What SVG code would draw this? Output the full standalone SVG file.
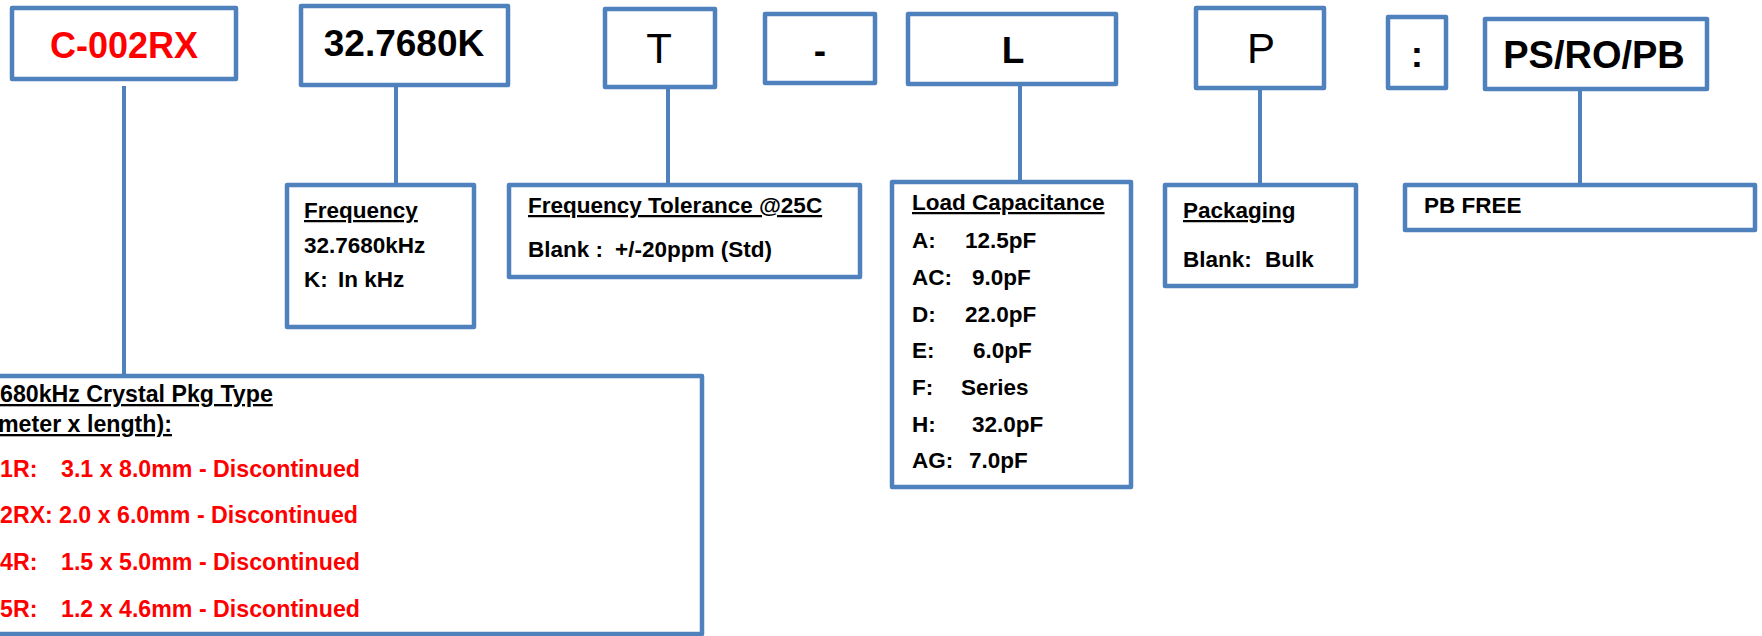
<svg xmlns="http://www.w3.org/2000/svg" width="1762" height="636" viewBox="0 0 1762 636">
<style>
.box{fill:#fff;stroke:#4F81BD;stroke-width:4.5;stroke-linejoin:round}
.con{stroke:#4F81BD;stroke-width:4;fill:none}
text{font-family:"Liberation Sans",Arial,sans-serif;font-weight:bold;fill:#000}
.big{font-size:37px;text-anchor:middle}
.reg{font-weight:normal;font-size:42px;text-anchor:middle}
.t{font-size:22.5px}
.t2{font-size:23.2px}
.u{text-decoration:underline}
.red{fill:#FF0000}
</style>
<rect width="1762" height="636" fill="#fff"/>
<g id="connectors">
<line class="con" x1="124" y1="86" x2="124" y2="376"/>
<line class="con" x1="396" y1="85" x2="396" y2="185"/>
<line class="con" x1="668" y1="87" x2="668" y2="185"/>
<line class="con" x1="1020" y1="84" x2="1020" y2="182"/>
<line class="con" x1="1260" y1="88" x2="1260" y2="185"/>
<line class="con" x1="1580" y1="89" x2="1580" y2="185"/>
</g>
<g id="n-series">
<rect class="box" x="12" y="8" width="224" height="71"/>
<text class="big red" x="124" y="58" style="font-size:36px">C-002RX</text>
</g>
<g id="n-freq-code">
<rect class="box" x="301" y="6" width="207" height="79"/>
<text class="big" x="404" y="56">32.7680K</text>
</g>
<g id="n-tol-code">
<rect class="box" x="605" y="9" width="110" height="78"/>
<text class="reg" x="659" y="63">T</text>
</g>
<g id="n-dash">
<rect class="box" x="765" y="14" width="110" height="69"/>
<text class="big" x="820" y="63">-</text>
</g>
<g id="n-load-code">
<rect class="box" x="908" y="14" width="208" height="70"/>
<text class="big" x="1013" y="63">L</text>
</g>
<g id="n-pkg-code">
<rect class="box" x="1196" y="8" width="128" height="80"/>
<text class="reg" x="1261" y="63">P</text>
</g>
<g id="n-colon">
<rect class="box" x="1388" y="17" width="58" height="71"/>
<text class="big" x="1417" y="67">:</text>
</g>
<g id="n-rohs-code">
<rect class="box" x="1485" y="19" width="222" height="70"/>
<text class="big" x="1594" y="68" style="font-size:38px">PS/RO/PB</text>
</g>
<g id="n-frequency">
<rect class="box" x="287" y="185" width="187" height="142"/>
<text class="t u" x="304" y="218">Frequency</text>
<text class="t" x="304" y="253">32.7680kHz</text>
<text class="t" y="287"><tspan x="304">K:</tspan><tspan x="338">In kHz</tspan></text>
</g>
<g id="n-tolerance">
<rect class="box" x="509" y="185" width="351" height="92"/>
<text class="t u" x="528" y="213">Frequency Tolerance @25C</text>
<text class="t" y="257"><tspan x="528">Blank :</tspan><tspan x="615">+/-20ppm (Std)</tspan></text>
</g>
<g id="n-load">
<rect class="box" x="892" y="182" width="239" height="305"/>
<text class="t u" x="912" y="210">Load Capacitance</text>
<text class="t" y="248"><tspan x="912">A:</tspan><tspan x="965">12.5pF</tspan></text>
<text class="t" y="285"><tspan x="912">AC:</tspan><tspan x="972">9.0pF</tspan></text>
<text class="t" y="322"><tspan x="912">D:</tspan><tspan x="965">22.0pF</tspan></text>
<text class="t" y="358"><tspan x="912">E:</tspan><tspan x="973">6.0pF</tspan></text>
<text class="t" y="395"><tspan x="912">F:</tspan><tspan x="961">Series</tspan></text>
<text class="t" y="432"><tspan x="912">H:</tspan><tspan x="972">32.0pF</tspan></text>
<text class="t" y="468"><tspan x="912">AG:</tspan><tspan x="969">7.0pF</tspan></text>
</g>
<g id="n-packaging">
<rect class="box" x="1165" y="185" width="191" height="101"/>
<text class="t u" x="1183" y="218">Packaging</text>
<text class="t" y="267"><tspan x="1183">Blank:</tspan><tspan x="1265">Bulk</tspan></text>
</g>
<g id="n-pbfree">
<rect class="box" x="1405" y="185" width="350" height="45"/>
<text class="t" x="1424" y="213">PB FREE</text>
</g>
<g id="n-pkgtype">
<rect class="box" x="-10" y="376" width="712" height="258"/>
<text class="t2 u" x="0" y="402">680kHz Crystal Pkg Type</text>
<text class="t2 u" x="-2" y="432">meter x length):</text>
<text class="t2 red" y="477"><tspan x="0">1R:</tspan><tspan x="61">3.1 x 8.0mm - Discontinued</tspan></text>
<text class="t2 red" y="523"><tspan x="0">2RX:</tspan><tspan x="59">2.0 x 6.0mm - Discontinued</tspan></text>
<text class="t2 red" y="570"><tspan x="0">4R:</tspan><tspan x="61">1.5 x 5.0mm - Discontinued</tspan></text>
<text class="t2 red" y="617"><tspan x="0">5R:</tspan><tspan x="61">1.2 x 4.6mm - Discontinued</tspan></text>
</g>
</svg>
